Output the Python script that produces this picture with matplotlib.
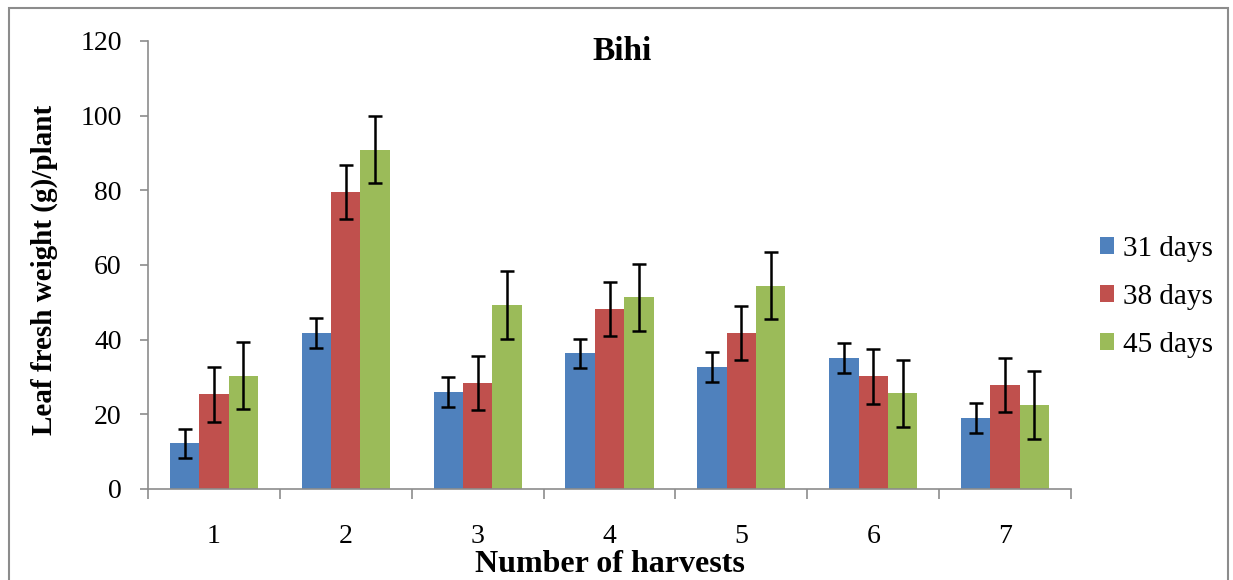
import matplotlib
matplotlib.use("Agg")
import matplotlib.pyplot as plt
from matplotlib.patches import Rectangle
import numpy as np

harvests = ["1", "2", "3", "4", "5", "6", "7"]
series_names = ["31 days", "38 days", "45 days"]
days31 = [12.2, 41.7, 25.9, 36.3, 32.6, 35.0, 19.1]
days38 = [25.4, 79.6, 28.3, 48.3, 41.7, 30.2, 27.8]
days45 = [30.4, 90.9, 49.3, 51.3, 54.5, 25.6, 22.5]
err31 = [4.0, 4.0, 4.0, 4.0, 4.0, 4.0, 4.0]
err38 = [7.4, 7.2, 7.2, 7.2, 7.2, 7.4, 7.3]
err45 = [9.0, 9.0, 9.0, 9.0, 9.0, 9.0, 9.0]
colors = ["#4F81BD", "#C0504D", "#9BBB59"]

plt.rcParams['font.family'] = ['Liberation Serif', 'DejaVu Serif']

W, H = 1233, 580
fig = plt.figure(figsize=(W / 100, H / 100), dpi=100)
ax = fig.add_axes([148 / W, 1 - 489 / H, (1071 - 148) / W, (489 - 41) / H])

x = np.arange(1, len(harvests) + 1)
bw = 0.223
vals = [days31, days38, days45]
errs = [err31, err38, err45]
for i, (v, e, c, n) in enumerate(zip(vals, errs, colors, series_names)):
    ax.bar(x + (i - 1) * bw, v, width=bw, color=c, label=n, zorder=2)
    ax.errorbar(x + (i - 1) * bw, v, yerr=e, fmt='none', ecolor='black',
                elinewidth=1.8, capsize=5, capthick=1.8, zorder=3)

ax.set_xlim(0.5, len(harvests) + 0.5)
ax.set_ylim(0, 120)
ax.set_yticks(np.arange(0, 121, 20))
ax.set_xticks(np.arange(0.5, len(harvests) + 1, 1))
ax.set_xticklabels([])
ax.set_xticks(x, minor=True)
ax.set_xticklabels(harvests, minor=True)

for s in ['top', 'right']:
    ax.spines[s].set_visible(False)
for s in ['left', 'bottom']:
    ax.spines[s].set_color('#8c8c8c')
    ax.spines[s].set_linewidth(1.2)

ax.tick_params(axis='y', direction='out', length=6, width=1.2, color='#8c8c8c',
               labelsize=20, pad=13)
ax.tick_params(axis='x', which='major', direction='out', length=7, width=1.2,
               color='#8c8c8c')
ax.tick_params(axis='x', which='minor', length=0, labelsize=20, pad=25)

ax.set_ylabel("Leaf fresh weight (g)/plant", fontsize=21, fontweight='bold')
ax.yaxis.set_label_coords((58 - 148) / (1071 - 148), 0.49)
fig.text(610 / W, 1 - 565 / H, "Number of harvests", fontsize=23,
         fontweight='bold', ha='center', va='center')
fig.text(622 / W, 1 - 51 / H, "Bihi", fontsize=24, fontweight='bold',
         ha='center', va='center')

fig.legend(loc='center left', bbox_to_anchor=(1088 / W, 1 - 297 / H),
           frameon=False, fontsize=21, handlelength=0.5, handleheight=0.5,
           handletextpad=0.3, labelspacing=0.75, borderaxespad=0)

fig.patches.append(Rectangle((9 / W, -0.05), (1228 - 9) / W, 1.05 - 8 / H,
                             transform=fig.transFigure, fill=False,
                             edgecolor='#8c8c8c', linewidth=1.5))

fig.savefig("out.png", dpi=100)
